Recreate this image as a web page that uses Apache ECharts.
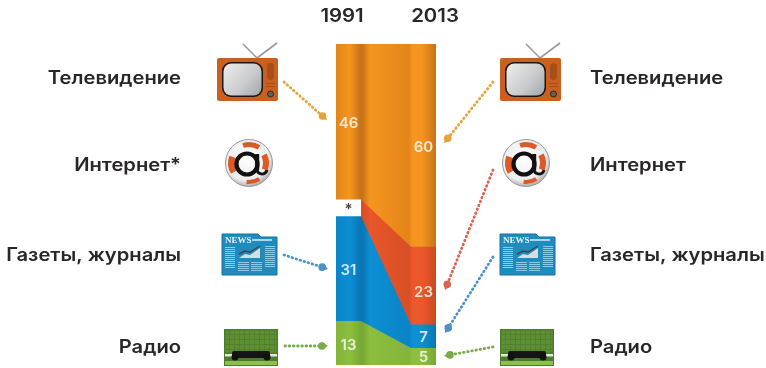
<!DOCTYPE html>
<html><head><meta charset="utf-8">
<style>html,body{margin:0;padding:0;background:#fff}#c{width:766px;height:368px;filter:blur(0.4px)}</style>
<script src="https://cdn.jsdelivr.net/npm/echarts@6/dist/echarts.min.js"></script>
</head><body><div id="c"></div>
<script>
const categories = ['Радио', 'Газеты, журналы', 'Интернет', 'Телевидение'];
const values1991 = [13, 31, 5, 46];
const values2013 = [5, 7, 23, 60];
const yearLabels = ['1991', '2013'];
const leftLabels = ['Телевидение', 'Интернет*', 'Газеты, журналы', 'Радио'];
const rightLabels = ['Телевидение', 'Интернет', 'Газеты, журналы', 'Радио'];
const segmentX = [0, 25, 75, 100];

const FF = 'Inter, "Noto Sans", sans-serif';
const INK = '#2a2627';
const ramp = (bright, mid, dark) => [
  {offset: 0, color: mid}, {offset: 0.14, color: bright}, {offset: 0.245, color: dark},
  {offset: 0.265, color: dark}, {offset: 0.34, color: bright}, {offset: 0.73, color: mid},
  {offset: 0.765, color: bright}, {offset: 0.86, color: bright}, {offset: 1, color: dark}];
const fills = [
  ramp('#8cbe3f', '#84b53a', '#78a935'),
  ramp('#0d8fd4', '#0a84c6', '#0a76b3'),
  [{offset: 0, color: '#fff'}, {offset: 0.25, color: '#fff'}, {offset: 0.251, color: '#d84c24'},
   {offset: 0.34, color: '#e8562a'}, {offset: 0.73, color: '#d84f26'}, {offset: 0.765, color: '#ec582b'},
   {offset: 0.86, color: '#ec582b'}, {offset: 1, color: '#cb4a21'}],
  ramp('#f5951f', '#e38519', '#c87318')
];
const grad = s => new echarts.graphic.LinearGradient(0, 0, 1, 0, s);

const cumulative = vals => { let s = 0; return vals.map(v => (s += v)); };
const top1991 = cumulative(values1991);
const top2013 = cumulative(values2013);

// painted from the tallest band down, so each lower band covers the one above it
const areas = categories.map((name, i) => ({
  type: 'line', name, showSymbol: false, silent: true, z: 2 + (categories.length - i),
  lineStyle: {width: 0}, areaStyle: {color: grad(fills[i]), opacity: 1, origin: 'start'},
  data: segmentX.map((x, k) => [x, k < 2 ? top1991[i] : top2013[i]])
}));

function labels(values, x, text) {
  let sum = 0;
  return values.map((v, i) => {
    const mid = sum + v / 2; sum += v;
    return {value: [x, mid], label: {formatter: text(v, i), offset: [0, 2], color: text(v, i) === '*' ? '#111' : '#fff'}};
  });
}
const tweak = d => { d[2].label.offset = [0, 7]; d[0].label.offset = [0, 1]; d[1].label.offset = [0, 1]; return d; };
const valueLabels = {
  type: 'scatter', symbolSize: 0, silent: true, z: 20,
  label: {show: true, position: 'inside', fontFamily: FF, fontWeight: 600, fontSize: 15},
  data: labels(values1991, 12.5, (v, i) => i === 2 ? '*' : String(v)).concat(tweak(labels(values2013, 87.5, v => String(v))))
};

const text = (t, x, y, align, size, sx) => ({type: 'text', silent: true, x, y, scaleX: sx, style: {
  text: t, x: 0, y: 0, textAlign: align, textVerticalAlign: 'middle',
  font: `600 ${size}px ${FF}`, fill: INK}});

function arrow(x1, y1, x2, y2, color) {
  const a = Math.atan2(y2 - y1, x2 - x1), r = 3.8;
  const px = Math.cos(a + Math.PI / 2), py = Math.sin(a + Math.PI / 2);
  const bx = x2 - Math.cos(a) * r * 1.6, by = y2 - Math.sin(a) * r * 1.6;
  return [
    {type: 'line', silent: true, shape: {x1, y1, x2: bx, y2: by},
     style: {stroke: color, lineWidth: 2.8, lineDash: [0.6, 3.6], lineCap: 'round'}},
    {type: 'circle', silent: true, shape: {cx: bx, cy: by, r}, style: {fill: color}},
    {type: 'polygon', silent: true, shape: {points: [[x2, y2], [bx + px * r, by + py * r], [bx - px * r, by - py * r]]}, style: {fill: color}}
  ];
}

function tv(x) {
  const y = 58;
  return [
    {type: 'line', shape: {x1: x + 40, y1: y, x2: x + 26, y2: y - 14}, style: {stroke: '#9a9a98', lineWidth: 1.6}},
    {type: 'line', shape: {x1: x + 40, y1: y, x2: x + 60, y2: y - 15}, style: {stroke: '#9a9a98', lineWidth: 1.6}},
    {type: 'rect', shape: {x, y, width: 61, height: 43, r: 2}, style: {fill: '#c9601f'}},
    {type: 'rect', shape: {x: x + 5, y: y + 4, width: 41, height: 35, r: 9}, style: {fill: '#1c1512'}},
    {type: 'rect', shape: {x: x + 6.5, y: y + 5.5, width: 38, height: 32, r: 8},
     style: {fill: new echarts.graphic.LinearGradient(0, 0, 1, 1, [{offset: 0, color: '#eeeeee'}, {offset: 0.6, color: '#c8cacb'}, {offset: 1, color: '#9fa7ab'}])}},
    {type: 'rect', shape: {x: x + 50, y: y + 5, width: 7, height: 17, r: 3.5}, style: {fill: '#a84e18'}},
    {type: 'rect', shape: {x: x + 49, y: y + 25, width: 9, height: 1}, style: {fill: '#a84e18'}},
    {type: 'rect', shape: {x: x + 49, y: y + 28, width: 9, height: 1}, style: {fill: '#a84e18'}},
    {type: 'circle', shape: {cx: x + 53.5, cy: y + 36, r: 3}, style: {fill: '#6b6058', stroke: '#2d2520', lineWidth: 1}}
  ];
}

function globe(cx, cy) {
  const sec = (a, b, r0, r) => ({type: 'sector', shape: {cx, cy, r0, r, startAngle: a, endAngle: b}, style: {fill: '#dd5a26'}});
  return [
    {type: 'circle', shape: {cx, cy, r: 23.5},
     style: {fill: new echarts.graphic.RadialGradient(0.45, 0.4, 0.65, [{offset: 0, color: '#ffffff'}, {offset: 0.72, color: '#ececec'}, {offset: 1, color: '#8f8f8f'}]), stroke: '#9a9a9a', lineWidth: 1}},
    sec(-1.9, -1.0, 16, 21), sec(-0.5, 0.4, 14, 20), sec(1.0, 1.7, 17, 21), sec(2.6, 3.5, 14, 21),
    {type: 'arc', shape: {cx: cx - 2, cy: cy + 1, r: 10.5, startAngle: 0, endAngle: Math.PI * 2}, style: {stroke: '#111', lineWidth: 4.2, fill: 'none'}},
    {type: 'arc', shape: {cx: cx + 13, cy: cy + 6, r: 5, startAngle: 0.2, endAngle: Math.PI}, style: {stroke: '#111', lineWidth: 3, fill: 'none'}},
    {type: 'line', shape: {x1: cx + 8.2, y1: cy - 9, x2: cx + 8.2, y2: cy + 7}, style: {stroke: '#111', lineWidth: 4}}
  ];
}

function news(x) {
  const y = 234, out = [
    {type: 'polygon', shape: {points: [[x, y], [x + 36, y], [x + 39, y + 3], [x + 55, y + 3], [x + 55, y + 41], [x, y + 41]]},
     style: {fill: '#1f8cbd', stroke: '#17739f', lineWidth: 1}},
    {type: 'text', style: {text: 'NEWS', x: x + 3, y: y + 7, textVerticalAlign: 'middle', font: 'bold 9px "Liberation Serif", serif', fill: '#e4f4fb'}},
    {type: 'rect', shape: {x: x + 30, y: y + 5, width: 20, height: 2}, style: {fill: '#a5d8ee'}},
    {type: 'polygon', shape: {points: [[x + 17, y + 24], [x + 23, y + 20], [x + 28, y + 21], [x + 38, y + 14], [x + 38, y + 24]]}, style: {fill: '#d7dde0'}},
    {type: 'polyline', shape: {points: [[x + 17, y + 20], [x + 23, y + 17], [x + 28, y + 18], [x + 38, y + 12]]}, style: {stroke: '#444', lineWidth: 1.4, fill: 'none'}}
  ];
  [[3, 13, 10, 22], [43, 12, 10, 22], [16, 28, 11, 10], [29, 28, 11, 10]].forEach(([dx, dy, w, h]) => {
    for (let k = 0; k < h; k += 2) {
      out.push({type: 'rect', shape: {x: x + dx, y: y + dy + k, width: w, height: 1}, style: {fill: '#a9dcf2', opacity: 0.8}});
    }
  });
  return out;
}

function radio(x) {
  const y = 329, out = [
    {type: 'rect', shape: {x, y, width: 54, height: 37}, style: {fill: '#4d7d2a'}},
    {type: 'rect', shape: {x: x + 1.5, y: y + 1.5, width: 51, height: 22}, style: {fill: '#5f8f33'}}
  ];
  for (let k = 5; k < 51; k += 5) out.push({type: 'rect', shape: {x: x + k, y: y + 1.5, width: 0.7, height: 22}, style: {fill: '#4d7d2a'}});
  for (let k = 5; k < 23; k += 5) out.push({type: 'rect', shape: {x: x + 1.5, y: y + k, width: 51, height: 0.7}, style: {fill: '#4d7d2a'}});
  return out.concat([
    {type: 'rect', shape: {x: x + 1, y: y + 25, width: 52, height: 2.5}, style: {fill: '#e4e7e2'}},
    {type: 'rect', shape: {x: x + 8, y: y + 22, width: 38, height: 7, r: 2}, style: {fill: '#151515'}},
    {type: 'circle', shape: {cx: x + 11, cy: y + 28, r: 3.5}, style: {fill: '#111'}},
    {type: 'circle', shape: {cx: x + 43, cy: y + 28, r: 3.5}, style: {fill: '#111'}},
    {type: 'rect', shape: {x: x + 1, y: y + 32, width: 52, height: 4}, style: {fill: '#8cc04c'}}
  ]);
}

const Y = [79, 166, 256, 348];
const decor = [].concat(
  yearLabels.map((t, i) => text(t, [342, 435][i], 17, 'center', 18, 1.13)),
  leftLabels.map((t, i) => text(t, 181, Y[i], 'right', 18, 1.12)),
  rightLabels.map((t, i) => text(t, 590, Y[i], 'left', 18, 1.12)),
  tv(217), tv(500), globe(249, 163), globe(526, 163),
  news(222), news(500), radio(224), radio(500),
  arrow(284, 82, 327, 120, '#e6a23c'),
  arrow(493, 82, 444, 143, '#e6a23c'),
  arrow(493, 170, 445, 290, '#d8654c'),
  arrow(284, 255, 328, 269, '#4a93c4'),
  arrow(493, 257, 445, 333, '#4a93c4'),
  arrow(285, 346, 328, 346, '#78ab48'),
  arrow(493, 347, 444, 356, '#78ab48')
);

const chart = echarts.init(document.getElementById('c'), null, {renderer: 'canvas'});
chart.setOption({
  animation: false, backgroundColor: '#fff',
  grid: {left: 336, width: 100, top: 44, height: 321},
  xAxis: {type: 'value', min: 0, max: 100, show: false},
  yAxis: {type: 'value', min: 0, max: 95, show: false},
  graphic: {elements: decor},
  series: areas.concat([valueLabels])
});
</script></body></html>
